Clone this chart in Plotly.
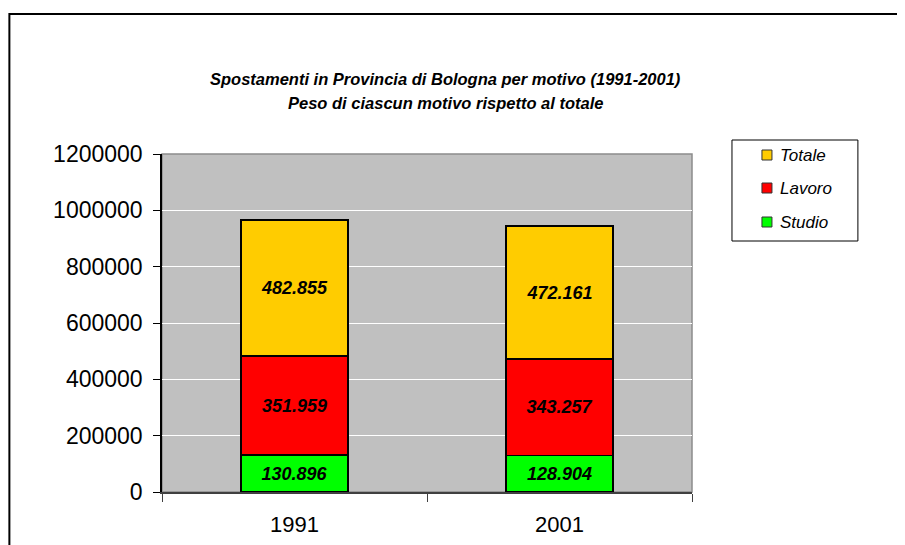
import plotly.graph_objects as go

years = ["1991", "2001"]
studio = [130896, 128904]
lavoro = [351959, 343257]
totale = [482855, 472161]
studio_labels = ["130.896", "128.904"]
lavoro_labels = ["351.959", "343.257"]
totale_labels = ["482.855", "472.161"]
y_ticks = [0, 200000, 400000, 600000, 800000, 1000000, 1200000]

OFF = 8  # page body margin
W, H = 897, 537
L, R, T, B = 161.7 - OFF, 692.0 - OFF, 154.0 - OFF, 492.0 - OFF
pw, ph = R - L, B - T

def px_x(p):  # page pixel -> paper
    return (p - OFF - L) / pw

def px_y(p):
    return (B - (p - OFF)) / ph

FONT = "Liberation Sans, Arial"
label_font = dict(family=FONT, size=18, color="black")
fig = go.Figure()
series = [
    ("Studio", studio, studio_labels, "#00FF00"),
    ("Lavoro", lavoro, lavoro_labels, "#FF0000"),
    ("Totale", totale, totale_labels, "#FFCC00"),
]
for name, vals, labs, col in series:
    fig.add_trace(go.Bar(
        x=years, y=vals, name=name, showlegend=False,
        text=["<b><i>%s</i></b>" % s for s in labs],
        textposition="inside", insidetextanchor="middle",
        textfont=label_font, insidetextfont=label_font,
        marker=dict(color=col, line=dict(color="black", width=1.5)),
        width=0.403, hoverinfo="skip",
    ))

fig.update_layout(
    barmode="stack",
    width=W, height=H,
    margin=dict(l=L, r=W - R, t=T, b=H - B, pad=0, autoexpand=False),
    paper_bgcolor="white",
    plot_bgcolor="#C0C0C0",
    showlegend=False,
    font=dict(family=FONT, color="black"),
)
fig.update_yaxes(
    range=[0, 1200000], tickvals=y_ticks, ticktext=[str(v) for v in y_ticks],
    showgrid=True, gridcolor="white", gridwidth=1,
    showline=True, linecolor="black", linewidth=1.5,
    ticks="outside", ticklen=7, tickcolor="black", tickwidth=1,
    ticklabelstandoff=6, automargin=False,
    tickfont=dict(size=23, family=FONT, color="black"),
    zeroline=False, fixedrange=True,
)
fig.update_xaxes(
    showline=True, linecolor="#404040", linewidth=1.5,
    ticks="outside", tickson="boundaries", ticklen=8, tickcolor="#404040", tickwidth=1,
    ticklabelstandoff=12, automargin=False,
    tickfont=dict(size=22, family=FONT, color="black"),
    showgrid=False, fixedrange=True,
)

# plot area border (top/right gray)
fig.add_shape(type="rect", xref="paper", yref="paper", x0=0, x1=1, y0=0, y1=1,
              line=dict(color="#8C8C8C", width=1.5), layer="below")
# outer chart frame
fig.add_shape(type="rect", xref="paper", yref="paper",
              x0=px_x(9), x1=px_x(930), y0=px_y(570), y1=px_y(14),
              line=dict(color="black", width=2))

# title
fig.add_annotation(
    xref="paper", yref="paper", x=px_x(445), y=px_y(79), xanchor="center", yanchor="middle",
    text="<b><i>Spostamenti in Provincia di Bologna per motivo (1991-2001)</i></b>",
    showarrow=False, font=dict(family=FONT, size=16.5, color="black"),
)
fig.add_annotation(
    xref="paper", yref="paper", x=px_x(445), y=px_y(103), xanchor="center", yanchor="middle",
    text="<b><i>Peso di ciascun motivo rispetto al totale</i></b>",
    showarrow=False, font=dict(family=FONT, size=16.5, color="black"),
)

# legend (manual)
fig.add_shape(type="rect", xref="paper", yref="paper",
              x0=px_x(732), x1=px_x(858), y0=px_y(241), y1=px_y(140),
              line=dict(color="black", width=1), fillcolor="white")
legend_items = [("Totale", "#FFCC00", 155), ("Lavoro", "#FF0000", 188), ("Studio", "#00FF00", 222)]
for name, col, yc in legend_items:
    fig.add_shape(type="rect", xref="paper", yref="paper",
                  x0=px_x(762), x1=px_x(772), y0=px_y(yc + 5), y1=px_y(yc - 5),
                  line=dict(color="#333333", width=1), fillcolor=col)
    fig.add_annotation(xref="paper", yref="paper", x=px_x(778), y=px_y(yc),
                       xanchor="left", yanchor="middle", text="<i>%s</i>" % name,
                       showarrow=False, font=dict(family=FONT, size=17, color="black"))

fig.write_html("out.html")
